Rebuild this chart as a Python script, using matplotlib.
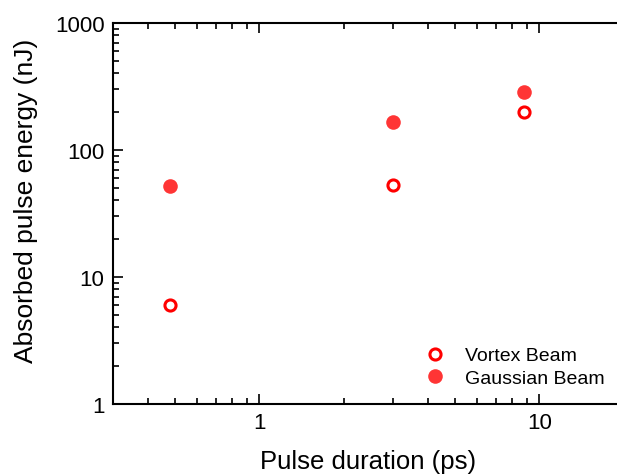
import matplotlib
matplotlib.use("Agg")
import matplotlib.pyplot as plt
from matplotlib.ticker import LogLocator, NullFormatter, FixedLocator

plt.rcParams['font.family'] = ['Liberation Sans', 'DejaVu Sans']

duration = [0.48, 3.0, 8.8]
vortex = [6.0, 53, 199]
gaussian = [52, 166, 285]

fig = plt.figure(figsize=(6.17, 4.77), dpi=100)
ax = fig.add_axes([0.183, 0.151, 0.828, 0.799])

ax.plot(duration, vortex, 'o', ls='none', ms=8, mfc='white', mec='#ff0000',
        mew=2.2, label='Vortex Beam')
ax.plot(duration, gaussian, 'o', ls='none', ms=10.5, mfc='#ff3535', mec='#ff3535',
        mew=0, label='Gaussian Beam')

ax.set_xscale('log')
ax.set_yscale('log')
ax.set_xlim(0.3, 20)
ax.set_ylim(1, 1000)
ax.xaxis.set_major_locator(FixedLocator([1, 10]))
ax.set_xticklabels(['1', '10'])
ax.yaxis.set_major_locator(FixedLocator([1, 10, 100, 1000]))
ax.set_yticklabels(['1', '10', '100', '1000'])
ax.xaxis.set_minor_locator(LogLocator(base=10, subs=range(2, 10), numticks=20))
ax.yaxis.set_minor_locator(LogLocator(base=10, subs=range(2, 10), numticks=20))
ax.xaxis.set_minor_formatter(NullFormatter())
ax.yaxis.set_minor_formatter(NullFormatter())

for s in ax.spines.values():
    s.set_linewidth(1.5)
ax.tick_params(which='both', direction='in', top=True, right=False, width=1.2,
               labelsize=16, colors='black')
ax.tick_params(which='major', length=7, pad=6)
ax.tick_params(which='minor', length=4)

ax.set_xlabel('Pulse duration (ps)', fontsize=18.5, labelpad=11)
ax.set_ylabel('Absorbed pulse energy (nJ)', fontsize=19)
ax.yaxis.set_label_coords(-0.147, 0.535)

ax.legend(loc='lower right', bbox_to_anchor=(0.962, 0.045), frameon=False,
          fontsize=14, handletextpad=0.8, labelspacing=0.25, borderpad=0,
          borderaxespad=0, handlelength=1.5)

fig.savefig('out.png', dpi=100)
